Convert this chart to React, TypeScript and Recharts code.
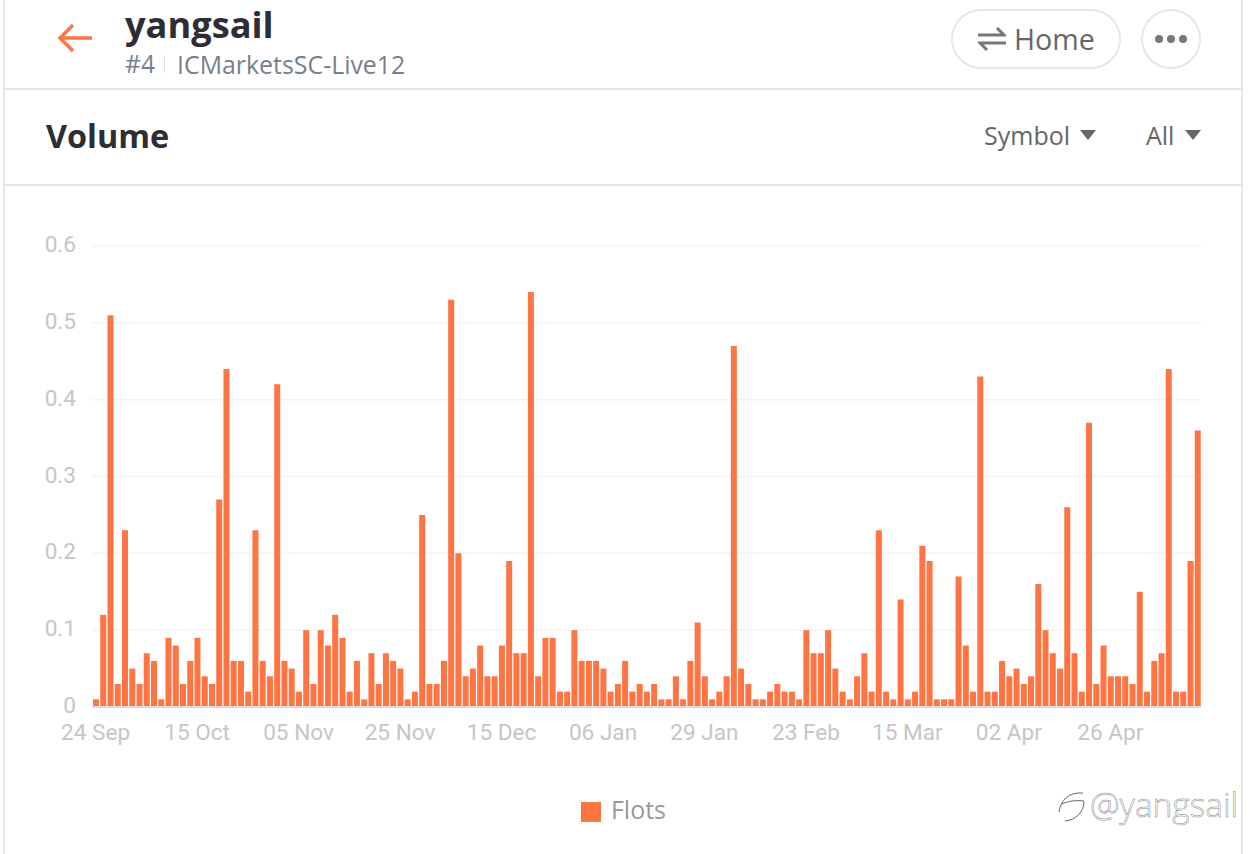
import React from "react";
import { BarChart, Bar, XAxis, YAxis, CartesianGrid, Legend } from "recharts";

const flots = [
  0.01,0.12,0.51,0.03,0.23,0.05,0.03,0.07,0.06,0.01,0.09,0.08,0.03,0.06,0.09,0.04,0.03,0.27,0.44,0.06,
  0.06,0.02,0.23,0.06,0.04,0.42,0.06,0.05,0.02,0.10,0.03,0.10,0.08,0.12,0.09,0.02,0.06,0.01,0.07,0.03,
  0.07,0.06,0.05,0.01,0.02,0.25,0.03,0.03,
  0.06,0.53,0.20,0.04,0.05,0.08,0.04,0.04,0.08,0.19,0.07,0.07,0.54,0.04,0.09,0.09,0.02,0.02,0.10,0.06,
  0.06,0.06,0.05,0.02,0.03,0.06,0.02,0.03,0.02,0.03,0.01,0.01,0.04,0.01,0.06,0.11,0.04,0.01,0.02,0.04,
  0.47,0.05,0.03,0.01,0.01,0.02,0.03,0.02,0.02,0.01,0.10,0.07,0.07,0.10,
  0.05,0.02,0.01,0.04,0.07,0.02,0.23,0.02,0.01,0.14,0.01,0.02,0.21,0.19,0.01,0.01,0.01,0.17,0.08,0.02,
  0.43,0.02,0.02,0.06,0.04,0.05,0.03,0.04,0.16,0.10,0.07,0.05,0.26,0.07,0.02,0.37,0.03,0.08,0.04,0.04,
  0.04,0.03,0.15,0.02,0.06,0.07,0.44,0.02,0.02,0.19,0.36,
];
const tickPositions = [0,14,28,42,56,70,84,98,112,126,140];
const tickLabels = ["24 Sep","15 Oct","05 Nov","25 Nov","15 Dec","06 Jan","29 Jan","23 Feb","15 Mar","02 Apr","26 Apr"];
const yTicks = [0,0.1,0.2,0.3,0.4,0.5,0.6];
const seriesName = "Flots";

const rows = flots.map((flot, idx) => ({ idx, flot }));
const UI = "'Open Sans', 'Noto Sans', sans-serif";

function Txt({ x, y, size, color, weight, children, family }: any) {
  return (
    <div style={{ position: "absolute", left: x, top: y, fontSize: size, color, fontWeight: weight ?? 400,
      fontFamily: family ?? UI, lineHeight: `${size}px`, whiteSpace: "nowrap", transform: "translateY(-50%)" }}>
      {children}
    </div>
  );
}
function Rule({ x, y, w, h, color }: any) {
  return <div style={{ position: "absolute", left: x, top: y, width: w, height: h, background: color }} />;
}
function Caret({ x, y }: any) {
  return <svg style={{ position: "absolute", left: x, top: y }} width={16} height={11}><path d="M0 0H16L8 10Z" fill="#666" /></svg>;
}
function YTick({ x, y, payload }: any) {
  return (
    <text x={x} y={y} dy={6} textAnchor="end" fill="#c6c6c6" fontSize={22.6} fontFamily="Roboto, sans-serif">
      {payload.value}
    </text>
  );
}

export default function App() {
  return (
    <div style={{ position: "absolute", left: 0, top: 0, width: 1250, height: 854, background: "#fff", overflow: "hidden" }}>
      <Rule x={3} y={0} w={2} h={854} color="#e6e6e6" />
      <Rule x={1241} y={0} w={2} h={854} color="#e6e6e6" />
      <Rule x={4} y={88} w={1238} h={2} color="#e6e6e6" />
      <Rule x={4} y={184} w={1238} h={2} color="#e6e6e6" />

      <svg style={{ position: "absolute", left: 56, top: 22 }} width={40} height={32}>
        <path d="M36 16H4M17 3L4 16L17 29" fill="none" stroke="#ff7443" strokeWidth={3.4} />
      </svg>
      <Txt x={125} y={24} size={36.2} color="#2d2d33" weight={700}>yangsail</Txt>
      <Txt x={125} y={64} size={24.6} color="#77808c">#4</Txt>
      <Rule x={164} y={55} w={1} h={18} color="#ddd" />
      <Txt x={177} y={64} size={24.9} color="#77808c">ICMarketsSC-Live12</Txt>
      <Txt x={46} y={135} size={32.4} color="#2d2d33" weight={700}>Volume</Txt>

      <div style={{ position: "absolute", left: 951, top: 9, width: 166, height: 56, border: "2px solid #e6e6e6", borderRadius: 30 }} />
      <svg style={{ position: "absolute", left: 978, top: 27 }} width={28} height={24}>
        <path d="M0 8H26L19 1M28 16H2L9 23" fill="none" stroke="#777" strokeWidth={3} />
      </svg>
      <Txt x={1014} y={39} size={28.6} color="#666">Home</Txt>
      <div style={{ position: "absolute", left: 1141, top: 9, width: 56, height: 56, border: "2px solid #e6e6e6", borderRadius: "50%" }} />
      <svg style={{ position: "absolute", left: 1153, top: 31 }} width={36} height={16}>
        <circle cx={6} cy={8} r={4} fill="#777" /><circle cx={18} cy={8} r={4} fill="#777" /><circle cx={30} cy={8} r={4} fill="#777" />
      </svg>
      <Txt x={984} y={135} size={25} color="#666">Symbol</Txt>
      <Caret x={1080} y={130} />
      <Txt x={1146} y={135} size={25} color="#666">All</Txt>
      <Caret x={1185} y={130} />

      <div style={{ position: "absolute", left: 0, top: 200 }}>
        <BarChart width={1250} height={654} data={rows} barSize={6}
          margin={{ top: 46, right: 49, left: 0, bottom: 29 }}>
          <CartesianGrid vertical={false} stroke="#f4f4f4" strokeWidth={1.5} />
          <XAxis dataKey="idx" type="category" height={88} ticks={tickPositions} interval={0}
            tickFormatter={(v: number) => tickLabels[tickPositions.indexOf(v)] ?? ""}
            tick={{ fill: "#c6c6c6", fontSize: 22.6, fontFamily: "Roboto, sans-serif" }}
            tickLine={false} tickMargin={11} axisLine={{ stroke: "#dcdcdc", strokeWidth: 2 }} />
          <YAxis width={92} domain={[0, 0.6]} ticks={yTicks} tickLine={false} axisLine={false} tickMargin={10}
            tick={<YTick />} />
          <Legend height={30} iconType="square" iconSize={20} wrapperStyle={{ left: 28, bottom: 35 }}
            formatter={(value: string) => <span style={{ color: "#999", fontSize: 25, fontFamily: UI, marginLeft: 6, position: "relative", top: 3 }}>{value}</span>} />
          <Bar dataKey="flot" name={seriesName} fill="#ff7443" isAnimationActive={false} />
        </BarChart>
      </div>

      <svg style={{ position: "absolute", left: 1056, top: 786 }} width={32} height={40}>
        <path d="M3 26C5 14 12 6 27 7M6 18C12 15 20 14 28 15C28 26 20 34 9 35" fill="none" stroke="#666" strokeWidth={1} />
      </svg>
      <Txt x={1090} y={805} size={33.4} color="#fff" family="'Open Sans', sans-serif">
        <span style={{ WebkitTextStroke: "0.5px #888", fontWeight: 300 }}>@yangsail</span>
      </Txt>
    </div>
  );
}
